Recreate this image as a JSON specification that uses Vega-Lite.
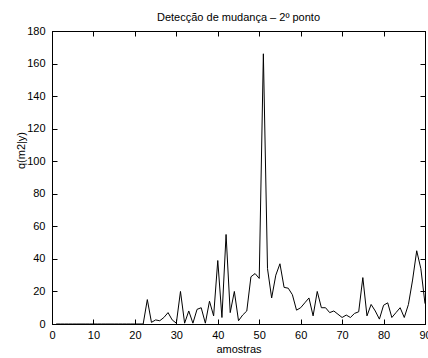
{
  "$schema": "https://vega.github.io/schema/vega-lite/v6.json",
  "autosize": {"type": "none"},
  "width": 373,
  "height": 293,
  "padding": {"left": 52, "top": 31, "right": 3, "bottom": 34},
  "background": "white",
  "config": {
    "view": {"stroke": "#000", "strokeWidth": 1},
    "font": "Liberation Sans",
    "axis": {
      "grid": false,
      "domainColor": "#000",
      "tickColor": "#000",
      "tickSize": -5,
      "labelColor": "#000",
      "titleColor": "#000",
      "labelFont": "Liberation Sans",
      "titleFont": "Liberation Sans",
      "labelFontSize": 11,
      "titleFontSize": 11,
      "titleFontWeight": "normal"
    }
  },
  "title": {
    "text": "Detecção de mudança – 2º ponto",
    "fontSize": 11,
    "fontWeight": "normal",
    "font": "Liberation Sans",
    "color": "#000",
    "anchor": "middle",
    "baseline": "alphabetic",
    "offset": 9,
    "dy": 16
  },
  "data": {
    "values": [
      {"x": 1, "q": 0}, {"x": 2, "q": 0}, {"x": 3, "q": 0}, {"x": 4, "q": 0}, {"x": 5, "q": 0},
      {"x": 6, "q": 0}, {"x": 7, "q": 0}, {"x": 8, "q": 0}, {"x": 9, "q": 0}, {"x": 10, "q": 0},
      {"x": 11, "q": 0}, {"x": 12, "q": 0}, {"x": 13, "q": 0}, {"x": 14, "q": 0}, {"x": 15, "q": 0},
      {"x": 16, "q": 0}, {"x": 17, "q": 0}, {"x": 18, "q": 0}, {"x": 19, "q": 0}, {"x": 20, "q": 0},
      {"x": 21, "q": 0}, {"x": 22, "q": 0}, {"x": 23, "q": 15}, {"x": 24, "q": 1}, {"x": 25, "q": 2.5},
      {"x": 26, "q": 2}, {"x": 27, "q": 4}, {"x": 28, "q": 7}, {"x": 29, "q": 2.5}, {"x": 30, "q": 0.5},
      {"x": 31, "q": 20}, {"x": 32, "q": 0.5}, {"x": 33, "q": 8}, {"x": 34, "q": 0.5}, {"x": 35, "q": 9},
      {"x": 36, "q": 10}, {"x": 37, "q": 0.5}, {"x": 38, "q": 14}, {"x": 39, "q": 5}, {"x": 40, "q": 39},
      {"x": 41, "q": 4}, {"x": 42, "q": 55}, {"x": 43, "q": 7}, {"x": 44, "q": 20}, {"x": 45, "q": 2},
      {"x": 46, "q": 5.5}, {"x": 47, "q": 8}, {"x": 48, "q": 29}, {"x": 49, "q": 31}, {"x": 50, "q": 28},
      {"x": 51, "q": 166}, {"x": 52, "q": 34}, {"x": 53, "q": 16}, {"x": 54, "q": 30}, {"x": 55, "q": 37},
      {"x": 56, "q": 22.5}, {"x": 57, "q": 22}, {"x": 58, "q": 18}, {"x": 59, "q": 8.5}, {"x": 60, "q": 10},
      {"x": 61, "q": 13}, {"x": 62, "q": 16}, {"x": 63, "q": 5}, {"x": 64, "q": 20}, {"x": 65, "q": 10},
      {"x": 66, "q": 10}, {"x": 67, "q": 7}, {"x": 68, "q": 8}, {"x": 69, "q": 6}, {"x": 70, "q": 4},
      {"x": 71, "q": 5.5}, {"x": 72, "q": 4}, {"x": 73, "q": 6.5}, {"x": 74, "q": 7.5}, {"x": 75, "q": 28.5},
      {"x": 76, "q": 5}, {"x": 77, "q": 12}, {"x": 78, "q": 8}, {"x": 79, "q": 3}, {"x": 80, "q": 11.5},
      {"x": 81, "q": 13}, {"x": 82, "q": 4}, {"x": 83, "q": 7}, {"x": 84, "q": 10}, {"x": 85, "q": 4},
      {"x": 86, "q": 12}, {"x": 87, "q": 27}, {"x": 88, "q": 45}, {"x": 89, "q": 34}, {"x": 90, "q": 12.5}
    ]
  },
  "layer": [
    {
      "mark": {"type": "line", "color": "#000", "strokeWidth": 1, "clip": true},
      "encoding": {
        "x": {
          "field": "x", "type": "quantitative",
          "scale": {"domain": [0, 90], "nice": false, "zero": false},
          "axis": {"orient": "bottom", "title": "amostras", "values": [0,10,20,30,40,50,60,70,80,90], "labelPadding": 10, "titlePadding": 3, "labelFlush": false, "labelOverlap": false}
        },
        "y": {
          "field": "q", "type": "quantitative",
          "scale": {"domain": [0, 180], "nice": false, "zero": false},
          "axis": {"orient": "left", "title": "q(m2|y)", "values": [0,20,40,60,80,100,120,140,160,180], "labelPadding": 12, "titleX": -28, "titleY": 119, "titleBaseline": "alphabetic", "titleAngle": -90, "titleAnchor": null, "titleAlign": "center", "labelFlush": false, "labelOverlap": false}
        }
      }
    },
    {
      "mark": {"type": "line", "opacity": 0},
      "encoding": {
        "x": {
          "field": "x", "type": "quantitative",
          "axis": {"orient": "top", "title": null, "labels": false, "values": [0,10,20,30,40,50,60,70,80,90]}
        },
        "y": {
          "field": "q", "type": "quantitative",
          "axis": {"orient": "right", "title": null, "labels": false, "values": [0,20,40,60,80,100,120,140,160,180]}
        }
      }
    }
  ],
  "resolve": {"axis": {"x": "independent", "y": "independent"}}
}
